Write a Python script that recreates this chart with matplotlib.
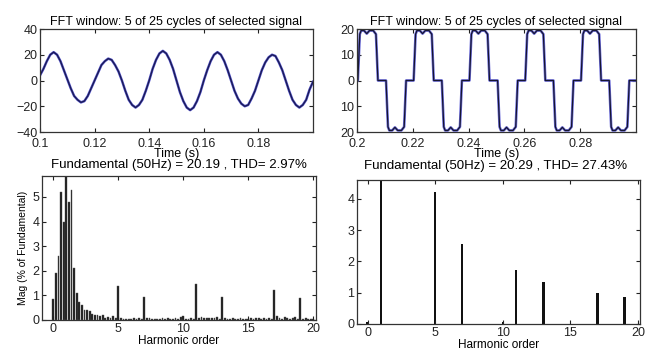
import numpy as np
import matplotlib
matplotlib.use('Agg')
import matplotlib.pyplot as plt

plt.rcParams['font.family'] = ['Liberation Sans', 'DejaVu Sans']
plt.rcParams['font.size'] = 8

# --- data ---
# top left: measured signal, 5 cycles, sampled every 1.25 ms from 0.1 s
sig1_t = np.linspace(0.1, 0.2, 81)
sig1_v = [4, 9, 15, 20, 22, 20, 15, 8, 1, -6, -12, -15, -17, -16, -12, -6,
          0, 6, 12, 15, 17, 16, 12, 7, 0, -8, -15, -19, -21, -19, -15, -8,
          0, 9, 16, 21, 23, 21, 16, 9, 0, -9, -16, -21, -23, -21, -16, -9,
          0, 8, 15, 20, 22, 20, 15, 8, 0, -8, -14, -18, -20, -19, -14, -8,
          0, 8, 14, 18, 20, 19, 14, 8, 0, -8, -15, -19, -21, -19, -15, -7,
          -1]

# top right: stepped inverter voltage
sig2_t = [0.2000,
          0.2003, 0.2010, 0.2015, 0.2025, 0.2035, 0.2045, 0.2058, 0.2068, 0.2075,
          0.2104, 0.2111, 0.2116, 0.2126, 0.2136, 0.2146, 0.2159, 0.2169, 0.2176,
          0.2203, 0.2210, 0.2215, 0.2225, 0.2235, 0.2245, 0.2258, 0.2268, 0.2275,
          0.2304, 0.2311, 0.2316, 0.2326, 0.2336, 0.2346, 0.2359, 0.2369, 0.2376,
          0.2403, 0.2410, 0.2415, 0.2425, 0.2435, 0.2445, 0.2458, 0.2468, 0.2475,
          0.2504, 0.2511, 0.2516, 0.2526, 0.2536, 0.2546, 0.2559, 0.2569, 0.2576,
          0.2603, 0.2610, 0.2615, 0.2625, 0.2635, 0.2645, 0.2658, 0.2668, 0.2675,
          0.2704, 0.2711, 0.2716, 0.2726, 0.2736, 0.2746, 0.2759, 0.2769, 0.2776,
          0.2803, 0.2810, 0.2815, 0.2825, 0.2835, 0.2845, 0.2858, 0.2868, 0.2875,
          0.2904, 0.2911, 0.2916, 0.2926, 0.2936, 0.2946, 0.2959, 0.2969, 0.2976,
          0.3000]
sig2_v = [0,
          0, 18, 19.4, 19.4, 18.2, 19.4, 19.4, 18, 0,
          0, -18, -19.4, -19.4, -18.2, -19.4, -19.4, -18, 0,
          0, 18, 19.4, 19.4, 18.2, 19.4, 19.4, 18, 0,
          0, -18, -19.4, -19.4, -18.2, -19.4, -19.4, -18, 0,
          0, 18, 19.4, 19.4, 18.2, 19.4, 19.4, 18, 0,
          0, -18, -19.4, -19.4, -18.2, -19.4, -19.4, -18, 0,
          0, 18, 19.4, 19.4, 18.2, 19.4, 19.4, 18, 0,
          0, -18, -19.4, -19.4, -18.2, -19.4, -19.4, -18, 0,
          0, 18, 19.4, 19.4, 18.2, 19.4, 19.4, 18, 0,
          0, -18, -19.4, -19.4, -18.2, -19.4, -19.4, -18, 0,
          0]

# bottom left: spectrum of measured signal, 0.2 harmonic resolution
spec1_h = np.round(np.arange(101) * 0.2, 1)
spec1_v = [0.85, 1.9, 2.6, 5.2, 4.0, 100, 4.8, 5.3, 2.1, 1.1,
           0.75, 0.6, 0.42, 0.4, 0.38, 0.25, 0.22, 0.2, 0.15, 0.2,
           0.1, 0.12, 0.08, 0.15, 0.1, 1.4, 0.1, 0.06, 0.05, 0.04,
           0.06, 0.1, 0.06, 0.08, 0.05, 0.92, 0.08, 0.1, 0.06, 0.05,
           0.06, 0.05, 0.07, 0.05, 0.08, 0.06, 0.05, 0.07, 0.05, 0.12,
           0.15, 0.06, 0.05, 0.08, 0.06, 1.45, 0.1, 0.12, 0.1, 0.08,
           0.1, 0.07, 0.1, 0.13, 0.06, 0.95, 0.1, 0.06, 0.05, 0.08,
           0.06, 0.05, 0.08, 0.06, 0.05, 0.06, 0.08, 0.05, 0.1, 0.08,
           0.06, 0.1, 0.05, 0.07, 0.06, 1.2, 0.15, 0.08, 0.06, 0.12,
           0.1, 0.05, 0.08, 0.12, 0.06, 0.9, 0.06, 0.1, 0.05, 0.04,
           0.03]

# bottom right: spectrum of stepped signal
spec2_h = [0, 1, 5, 7, 10, 11, 13, 17, 19]
spec2_v = [0.05, 100, 4.22, 2.57, 0.05, 1.72, 1.35, 1.0, 0.85]

title_txt = 'FFT window: 5 of 25 cycles of selected signal'
fund1_txt = 'Fundamental (50Hz) = 20.19 , THD= 2.97%'
fund2_txt = 'Fundamental (50Hz) = 20.29 , THD= 27.43%'

W, H = 658, 350
fig = plt.figure(figsize=(W / 100, H / 100), dpi=100)


def box(l, r, t, b):
    return [l / W, 1 - b / H, (r - l) / W, (b - t) / H]


def style(ax, xpad=2):
    ax.tick_params(direction='in', length=3, width=0.8, top=True, right=True,
                   labelsize=9, pad=2, colors='#222222')
    ax.tick_params(axis='x', pad=xpad)
    for s in ax.spines.values():
        s.set_linewidth(0.9)
        s.set_color('#333333')


ax1 = fig.add_axes(box(40, 313, 29, 132))
ax2 = fig.add_axes(box(357, 636, 29, 132))
ax3 = fig.add_axes(box(42, 316, 176, 320))
ax4 = fig.add_axes(box(357, 640, 180, 324))

# top left
ax1.plot(sig1_t, sig1_v, color='#5050c8', lw=1.8)
ax1.plot(sig1_t, sig1_v, color='#1a1a50', lw=0.9)
ax1.set_xlim(0.1, 0.2)
ax1.set_ylim(-40, 40)
ax1.set_xticks([0.1, 0.12, 0.14, 0.16, 0.18])
ax1.set_xticklabels(['0.1', '0.12', '0.14', '0.16', '0.18'])
ax1.set_yticks([-40, -20, 0, 20, 40])
ax1.set_title(title_txt, fontsize=9, pad=3)
style(ax1, xpad=4)
ax1.set_xlabel('Time (s)', fontsize=9, labelpad=-1)
fig.text(179 / W, 1 - 165 / H, fund1_txt, ha='center', va='center', fontsize=9.5)

# top right
ax2.plot(sig2_t, sig2_v, color='#6a6ad8', lw=1.9)
ax2.plot(sig2_t, sig2_v, color='#151530', lw=0.9)
ax2.set_xlim(0.2, 0.3)
ax2.set_ylim(-20, 20)
ax2.set_xticks([0.2, 0.22, 0.24, 0.26, 0.28])
ax2.set_xticklabels(['0.2', '0.22', '0.24', '0.26', '0.28'])
ax2.set_yticks([-20, -10, 0, 10, 20])
ax2.set_yticklabels(['20', '10', '0', '10', '20'])
ax2.set_title(title_txt, fontsize=9, pad=3)
style(ax2, xpad=4)
ax2.set_xlabel('Time (s)', fontsize=9, labelpad=-1)
fig.text(496 / W, 1 - 166 / H, fund2_txt, ha='center', va='center', fontsize=9.5)

# bottom left
ax3.bar(spec1_h, spec1_v, width=0.14, color='#1a1a1a', edgecolor='#555555', lw=0.3)
ax3.set_xlim(-0.87, 20.2)
ax3.set_ylim(0, 5.85)
ax3.set_xticks([0, 5, 10, 15, 20])
ax3.set_yticks([0, 1, 2, 3, 4, 5])
style(ax3)
ax3.set_xlabel('Harmonic order', fontsize=8.5, labelpad=0)
ax3.set_ylabel('Mag (% of Fundamental)', fontsize=7.5, labelpad=3)

# bottom right
ax4.bar(spec2_h, spec2_v, width=0.18, color='#111111')
ax4.set_xlim(-0.78, 20.15)
ax4.set_ylim(0, 4.6)
ax4.set_xticks([0, 5, 10, 15, 20])
ax4.set_yticks([0, 1, 2, 3, 4])
style(ax4)
ax4.set_xlabel('Harmonic order', fontsize=8.5, labelpad=0)

fig.savefig('out.png', dpi=100)
